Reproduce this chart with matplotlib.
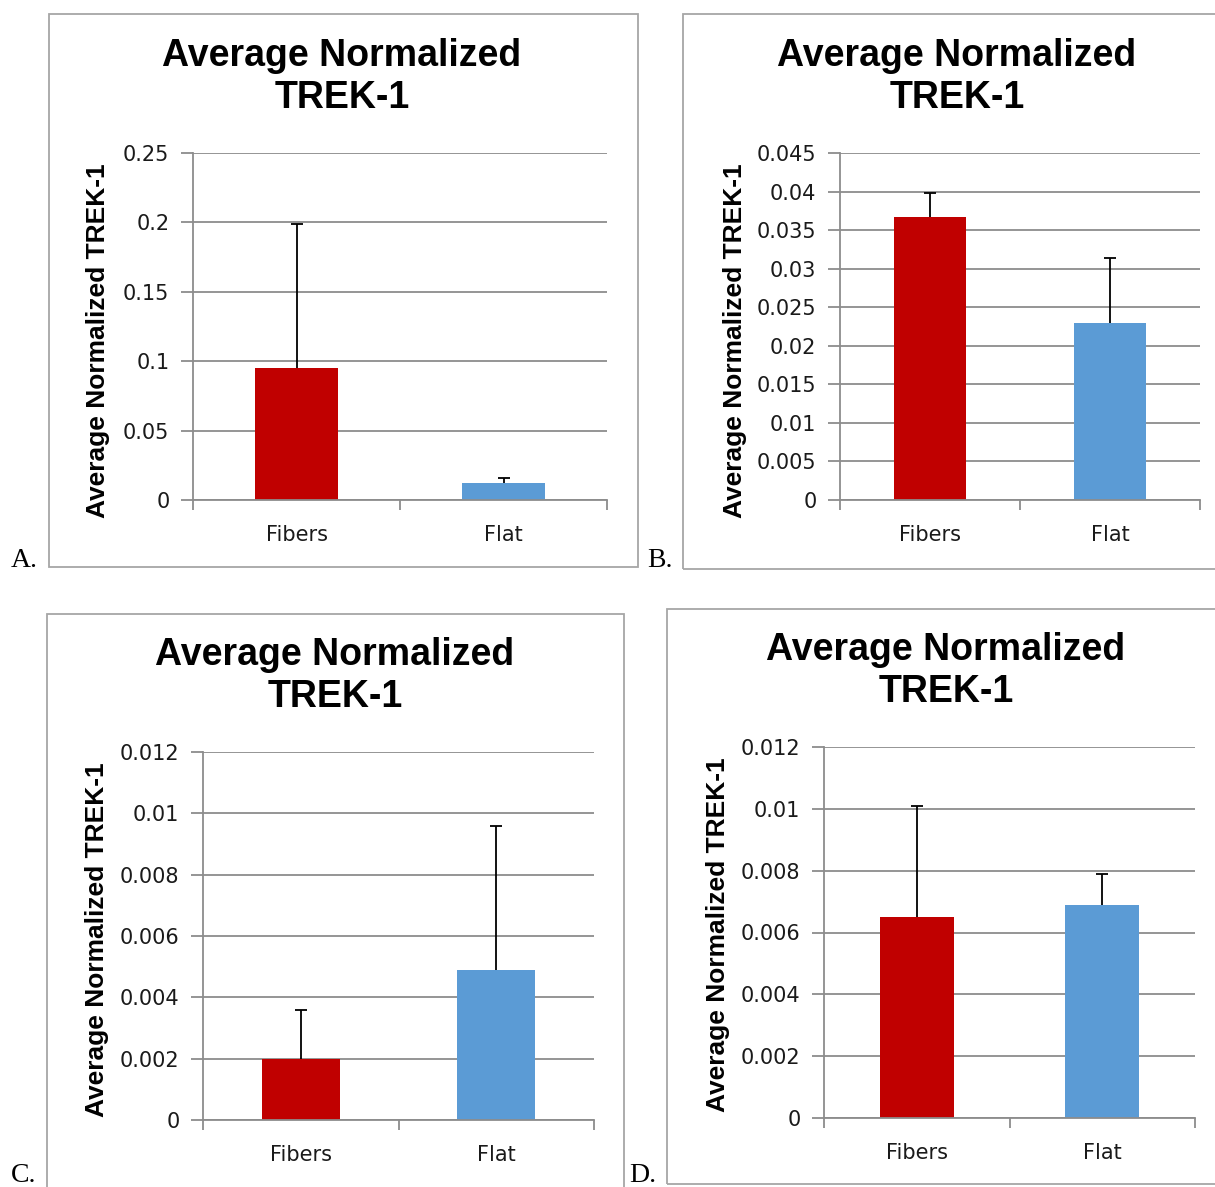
import matplotlib.pyplot as plt
from matplotlib.patches import Rectangle

categorias = ['Fibers', 'Flat']
colores = ['#C00000', '#5B9BD5']
titulo = 'Average Normalized\nTREK-1'
etiqueta_y = 'Average Normalized TREK-1'

# valores (media y error superior)
media_a = [0.095, 0.012]
error_a = [0.104, 0.004]
ticks_a = [0, 0.05, 0.1, 0.15, 0.2, 0.25]

media_b = [0.0367, 0.0229]
error_b = [0.0031, 0.0085]
ticks_b = [0, 0.005, 0.01, 0.015, 0.02, 0.025, 0.03, 0.035, 0.04, 0.045]

media_c = [0.0020, 0.0049]
error_c = [0.0016, 0.0047]
ticks_c = [0, 0.002, 0.004, 0.006, 0.008, 0.01, 0.012]

media_d = [0.0065, 0.0069]
error_d = [0.0036, 0.0010]
ticks_d = [0, 0.002, 0.004, 0.006, 0.008, 0.01, 0.012]

W, H = 1215, 1187
GRIS = '#8c8c8c'


def px(x0, y0, x1, y1):
    # caja en pixeles -> fracciones de figura
    return [x0 / W, 1 - y1 / H, (x1 - x0) / W, (y1 - y0) / H]


def panel(fig, caja, marco, centro_titulo, pos_ylabel, letra, pos_letra, media, error, ticks):
    fx0, fy0, fx1, fy1 = marco
    fig.patches.append(Rectangle((fx0 / W, 1 - fy1 / H), (fx1 - fx0) / W, (fy1 - fy0) / H,
                                 transform=fig.transFigure, fill=False, edgecolor='#a6a6a6',
                                 linewidth=1.3))
    fig.text(centro_titulo[0] / W, 1 - centro_titulo[1] / H, titulo, ha='center', va='center',
             fontsize=27, fontweight='bold', family='Liberation Sans', linespacing=1.18)
    fig.text(pos_ylabel[0] / W, 1 - pos_ylabel[1] / H, etiqueta_y, rotation=90, ha='center',
             va='center', fontsize=19, fontweight='bold', family='Liberation Sans')
    fig.text(pos_letra[0] / W, 1 - pos_letra[1] / H, letra, ha='left', va='baseline',
             fontsize=20, family='Liberation Serif')

    ax = fig.add_axes(px(*caja))
    x = range(len(categorias))
    ax.bar(x, media, width=0.4, color=colores, zorder=2)
    eb = ax.errorbar(x, media, yerr=[[0] * len(media), error], fmt='none', ecolor='black',
                     elinewidth=1.3, capsize=4, capthick=1.3, zorder=3)
    # solo la barra de error superior lleva tope
    eb[1][0].set_visible(False)
    ax.set_xlim(-0.5, len(categorias) - 0.5)
    ax.set_ylim(ticks[0], ticks[-1])
    ax.set_yticks(ticks)
    ax.set_yticklabels(['{:g}'.format(t) for t in ticks])
    ax.set_xticks(list(x))
    ax.set_xticklabels(categorias)
    ax.set_xticks([-0.5, 0.5, 1.5], minor=True)
    ax.tick_params(axis='x', which='major', length=0, pad=18)
    ax.tick_params(axis='x', which='minor', length=7, color=GRIS, width=1.3)
    ax.tick_params(axis='y', length=9, color=GRIS, width=1.3, pad=8)
    for lab in ax.get_xticklabels() + ax.get_yticklabels():
        lab.set_family('DejaVu Sans')
        lab.set_fontsize(15)
        lab.set_color('#1a1a1a')
    ax.grid(axis='y', color=GRIS, linewidth=1.3, zorder=0)
    for lado in ['top', 'right']:
        ax.spines[lado].set_visible(False)
    ax.spines['left'].set_color(GRIS)
    ax.spines['bottom'].set_color(GRIS)
    ax.spines['left'].set_linewidth(1.3)
    ax.spines['bottom'].set_linewidth(1.3)
    return ax


fig = plt.figure(figsize=(W / 100, H / 100), dpi=100)

panel(fig, (193, 153, 607, 500), (49, 14, 638, 567), (342, 77), (98, 341), 'A.', (11, 567),
      media_a, error_a, ticks_a)
panel(fig, (840, 153, 1200, 500), (683, 14, 1222, 569), (957, 77), (735, 341), 'B.', (647, 567),
      media_b, error_b, ticks_b)
panel(fig, (203, 752, 594, 1120), (47, 614, 624, 1195), (335, 676), (97, 940), 'C.', (11, 1182),
      media_c, error_c, ticks_c)
panel(fig, (824, 747, 1195, 1118), (667, 609, 1222, 1184), (946, 671), (718, 935), 'D.', (629, 1182),
      media_d, error_d, ticks_d)

fig.savefig('out.png', dpi=100)
